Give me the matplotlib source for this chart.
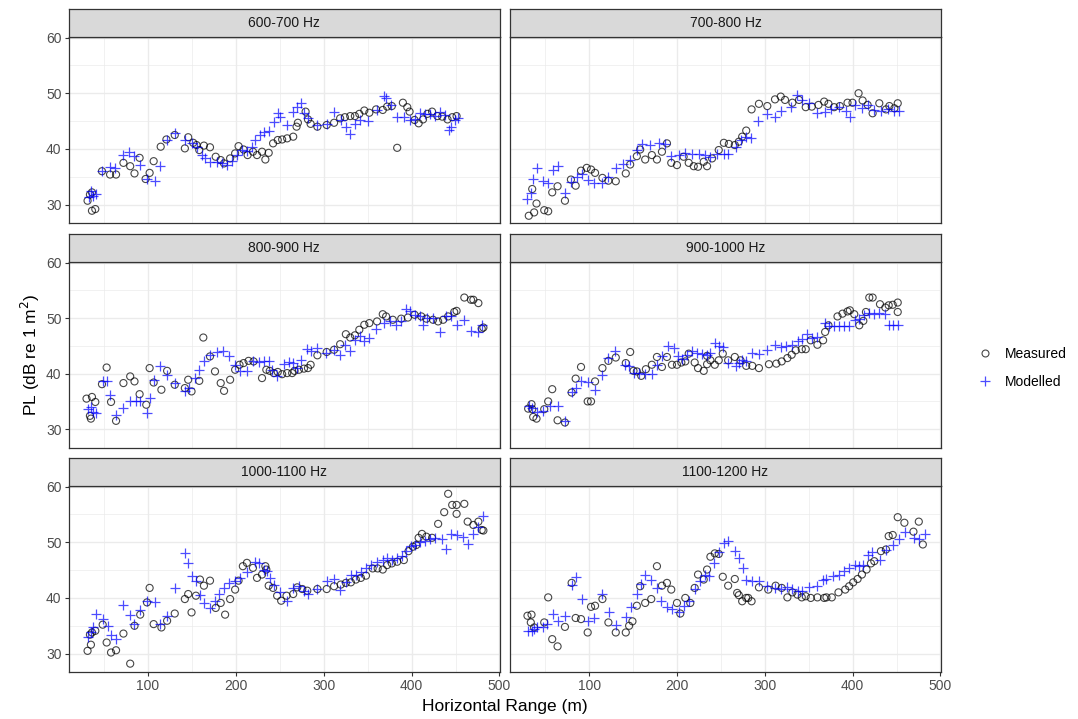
import matplotlib.pyplot as plt
from matplotlib.lines import Line2D
from matplotlib.ticker import MultipleLocator

plt.rcParams['font.family'] = ['Liberation Sans', 'DejaVu Sans']

bands = ['600-700 Hz', '700-800 Hz', '800-900 Hz', '900-1000 Hz', '1000-1100 Hz', '1100-1200 Hz']

# ---- 600-700 Hz ----
meas_r_600 = [31.3, 36.3, 40.1, 34.0, 36.3, 47.7, 56.9, 63.7, 72.1, 79.8, 84.7, 90.5, 97.3, 101.9, 106.5,
              114.5, 121.0, 130.5, 142.0, 145.8, 151.5, 155.3, 158.4, 163.7, 170.6, 177.1, 182.8, 186.6,
              193.5, 199.2, 203.1, 208.8, 213.4, 219.5, 224.1, 229.8, 233.6, 237.4, 242.4, 247.7, 252.7,
              258.4, 265.3, 269.1, 270.6, 279.4, 282.1, 285.1, 292.8, 303.4, 311.8, 318.7, 324.1, 330.2,
              335.5, 340.5, 346.2, 351.9, 359.6, 367.2, 372.2, 377.5, 383.6, 390.1, 395.1, 397.7, 403.4,
              408.0, 413.0, 418.0, 423.3, 429.4, 434.8, 440.9, 446.2, 451.2]
meas_pl_600 = [30.7, 28.9, 29.2, 31.8, 32.2, 36.0, 35.4, 35.4, 37.5, 36.9, 35.6, 38.4, 34.6, 35.7, 37.8,
               40.4, 41.7, 42.5, 40.1, 42.1, 41.1, 40.7, 39.8, 40.6, 40.3, 38.6, 38.0, 37.4, 38.3, 39.2,
               40.5, 39.9, 38.9, 39.5, 38.9, 39.5, 38.1, 39.3, 41.0, 41.6, 41.7, 41.9, 42.2, 44.0, 44.7,
               46.7, 45.3, 44.5, 44.0, 44.3, 44.7, 45.5, 45.7, 45.9, 45.9, 46.3, 46.9, 46.5, 47.1, 47.0,
               47.6, 47.7, 40.2, 48.3, 47.5, 46.7, 45.2, 44.6, 45.3, 46.3, 46.7, 45.9, 45.8, 45.3, 45.7, 45.9]
mod_r_600 = [32.4, 35.1, 37.0, 40.8, 47.7, 56.9, 63.0, 71.4, 79.0, 83.6, 90.5, 98.9, 107.6, 114.1, 121.8,
             130.5, 142.0, 149.6, 155.3, 161.1, 164.9, 170.6, 178.2, 184.0, 189.7, 195.4, 201.2, 206.9,
             212.6, 218.3, 222.1, 227.1, 231.7, 237.4, 243.2, 247.7, 250.8, 258.4, 265.3, 269.1, 273.7,
             277.5, 282.1, 292.8, 304.2, 311.8, 319.4, 325.2, 330.2, 335.5, 341.6, 350.0, 360.7, 368.3,
             371.0, 376.7, 383.6, 391.2, 397.7, 403.4, 409.2, 414.9, 420.6, 426.4, 432.1, 437.8, 442.4,
             445.4, 449.3, 452.3]
mod_pl_600 = [31.3, 32.5, 31.6, 31.9, 36.1, 36.7, 36.6, 39.0, 39.5, 38.7, 37.1, 34.6, 34.3, 36.9, 41.6,
              42.8, 41.6, 41.0, 40.3, 38.9, 38.3, 37.7, 37.7, 37.4, 37.1, 37.8, 38.9, 39.8, 39.7, 40.4,
              41.6, 42.5, 43.1, 43.3, 44.9, 46.4, 45.7, 44.3, 46.7, 47.6, 48.2, 46.4, 45.5, 44.3, 44.5,
              46.7, 45.2, 44.0, 42.7, 44.5, 45.2, 45.1, 47.0, 49.5, 49.1, 47.9, 45.7, 45.7, 45.2, 45.3,
              46.5, 46.3, 46.3, 45.9, 46.7, 46.1, 43.4, 44.0, 45.2, 45.5]

# ---- 700-800 Hz ----
meas_r_700 = [31.0, 37.1, 39.8, 34.9, 48.6, 53.1, 57.7, 63.8, 72.2, 79.0, 84.4, 90.5, 97.0, 101.9, 106.5,
              114.9, 121.7, 130.1, 141.5, 146.5, 154.1, 157.9, 163.6, 171.2, 177.0, 182.7, 188.4, 193.3,
              199.8, 207.4, 213.2, 218.9, 223.8, 230.3, 234.1, 239.8, 247.4, 253.2, 258.9, 265.7, 270.3,
              274.1, 278.7, 284.8, 293.2, 302.7, 311.5, 318.0, 322.9, 331.3, 338.9, 346.5, 353.4, 361.0,
              367.5, 372.4, 378.9, 385.4, 394.1, 399.8, 406.7, 411.3, 417.0, 422.7, 430.3, 437.9, 441.8,
              447.5, 451.3]
meas_pl_700 = [28.0, 28.6, 30.2, 32.8, 29.0, 28.8, 32.2, 33.3, 30.7, 34.5, 33.4, 36.1, 36.6, 36.3, 35.7,
               34.8, 34.3, 34.2, 35.6, 37.2, 38.7, 39.9, 38.1, 38.9, 38.1, 39.5, 41.0, 37.5, 37.1, 38.6,
               37.5, 36.9, 36.8, 37.7, 36.9, 38.3, 39.8, 41.1, 40.9, 40.7, 41.3, 42.2, 43.3, 47.1, 48.1,
               47.7, 48.9, 49.4, 48.8, 48.3, 48.8, 47.5, 47.6, 47.9, 48.5, 48.1, 47.5, 47.7, 48.3, 48.3,
               50.0, 48.7, 47.9, 46.4, 48.2, 47.1, 47.7, 47.3, 48.2]
mod_r_700 = [29.5, 33.3, 36.0, 40.9, 47.4, 52.4, 58.9, 64.6, 72.2, 79.0, 85.5, 91.2, 98.1, 105.7, 114.1,
             121.7, 130.1, 138.9, 146.5, 154.1, 159.8, 169.3, 178.9, 186.5, 193.3, 201.7, 209.3, 216.9,
             224.6, 232.2, 237.9, 245.5, 253.2, 258.1, 266.5, 272.2, 278.0, 283.6, 292.4, 302.7, 311.5,
             318.0, 329.4, 336.0, 342.8, 350.3, 359.8, 368.6, 375.1, 384.6, 392.2, 396.8, 402.9, 410.5,
             417.0, 424.6, 432.2, 439.9, 447.5, 452.4]
mod_pl_700 = [31.0, 32.0, 34.6, 36.6, 34.3, 33.8, 36.3, 36.9, 32.0, 34.1, 35.0, 35.5, 34.5, 33.8, 33.8,
              35.0, 36.6, 37.3, 38.1, 39.8, 40.9, 40.7, 41.0, 40.9, 38.7, 38.9, 39.3, 39.1, 39.1, 38.9,
              38.6, 39.1, 39.1, 39.1, 40.4, 41.6, 42.2, 41.9, 45.1, 46.3, 45.7, 46.9, 47.5, 49.7, 48.7,
              48.2, 46.5, 46.7, 47.1, 47.6, 46.9, 45.7, 47.9, 47.3, 47.9, 47.0, 46.9, 47.1, 46.9, 46.9]

# ---- 800-900 Hz ----
meas_r_800 = [30.1, 36.3, 40.1, 34.0, 35.1, 47.7, 53.0, 58.0, 63.7, 72.1, 79.8, 84.7, 90.5, 98.1, 101.9,
              106.5, 115.3, 121.8, 130.5, 142.0, 145.8, 149.6, 158.4, 163.0, 170.6, 176.3, 182.8, 186.6,
              193.5, 199.2, 204.2, 208.8, 214.5, 220.2, 229.8, 234.7, 238.6, 243.2, 247.7, 252.7, 258.4,
              264.1, 266.8, 271.8, 277.5, 282.1, 285.1, 292.8, 303.4, 311.8, 318.7, 325.2, 330.2, 335.5,
              340.5, 346.2, 351.9, 360.7, 367.2, 371.0, 378.6, 388.2, 395.8, 403.4, 411.1, 416.8, 424.4,
              430.2, 435.9, 441.6, 448.5, 451.2, 460.0, 467.6, 470.3, 476.0, 479.8, 481.7]
meas_pl_800 = [35.5, 35.8, 34.9, 32.4, 31.9, 38.1, 41.1, 34.9, 31.5, 38.3, 39.5, 38.6, 36.3, 34.4, 41.0,
               38.4, 37.1, 40.5, 38.0, 37.4, 38.9, 36.8, 38.7, 46.5, 43.1, 40.4, 38.3, 36.9, 38.9, 40.7,
               41.6, 41.9, 42.3, 42.2, 39.2, 40.7, 40.5, 40.1, 40.3, 39.9, 40.1, 40.1, 40.5, 40.7, 40.9,
               41.0, 41.6, 43.3, 43.9, 44.3, 45.3, 47.1, 46.5, 46.9, 47.9, 48.8, 49.1, 49.4, 50.7, 50.3,
               49.7, 49.9, 50.1, 50.6, 50.3, 49.9, 49.7, 49.4, 49.7, 50.3, 51.1, 51.3, 53.7, 53.3, 53.3,
               52.7, 48.1, 48.3]
mod_r_800 = [31.3, 35.1, 37.0, 40.8, 48.5, 53.0, 56.9, 63.7, 72.1, 79.8, 85.9, 90.5, 98.9, 101.9, 106.5,
             114.1, 121.8, 130.5, 142.0, 146.9, 153.4, 158.4, 163.7, 170.6, 178.2, 185.8, 192.7, 199.2,
             204.9, 212.6, 219.5, 225.9, 231.7, 237.4, 241.3, 247.0, 254.6, 260.4, 265.3, 269.1, 273.7,
             281.3, 285.9, 292.8, 302.3, 311.8, 318.7, 324.1, 330.2, 335.5, 341.6, 346.2, 351.9, 359.6,
             369.1, 376.0, 382.5, 388.2, 393.9, 397.7, 403.4, 409.2, 413.0, 418.0, 424.4, 432.1, 439.7,
             445.4, 451.2, 460.0, 467.6, 475.2, 480.6]
mod_pl_800 = [33.7, 34.0, 33.1, 33.0, 38.6, 38.6, 36.2, 32.6, 33.8, 35.0, 35.0, 35.1, 32.9, 35.7, 38.9,
              41.3, 39.7, 38.3, 36.9, 37.4, 39.2, 40.7, 42.2, 43.3, 43.9, 44.0, 43.1, 41.6, 40.4, 40.4,
              42.2, 42.1, 42.3, 42.2, 40.7, 39.5, 41.7, 42.1, 41.9, 41.0, 42.5, 44.5, 44.1, 44.7, 43.7,
              44.3, 43.4, 45.1, 44.0, 46.1, 46.7, 45.9, 46.5, 48.1, 49.1, 49.5, 48.7, 49.5, 51.6, 51.3,
              50.6, 50.3, 48.8, 50.0, 50.0, 47.5, 50.3, 50.3, 48.7, 49.7, 47.7, 47.5, 48.8]

# ---- 900-1000 Hz ----
meas_r_900 = [30.3, 34.1, 34.9, 36.0, 39.8, 48.6, 53.1, 57.7, 63.8, 72.2, 79.8, 84.4, 90.5, 98.1, 101.9,
              106.5, 114.9, 121.7, 130.1, 141.5, 146.5, 150.3, 154.1, 159.1, 164.4, 171.2, 177.0, 182.7,
              188.4, 194.1, 199.8, 204.8, 209.3, 213.2, 220.0, 223.8, 230.3, 234.1, 234.1, 237.9, 242.9,
              247.4, 252.0, 258.1, 265.7, 272.2, 278.7, 285.6, 293.2, 304.6, 313.0, 319.1, 325.6, 330.5,
              335.1, 342.0, 346.5, 352.2, 359.8, 366.3, 368.6, 372.4, 382.7, 388.4, 394.1, 396.8, 401.8,
              407.5, 412.1, 415.1, 418.9, 422.7, 431.1, 437.2, 441.0, 445.6, 451.3, 451.3]
meas_pl_900 = [33.7, 34.5, 33.6, 32.2, 31.9, 33.6, 35.0, 37.2, 31.6, 31.2, 36.6, 39.1, 41.2, 35.0, 35.0,
               38.6, 41.0, 42.3, 42.9, 41.9, 43.9, 40.5, 40.4, 39.6, 40.8, 41.6, 43.0, 41.2, 43.0, 41.6,
               41.6, 42.0, 42.2, 43.6, 42.0, 41.0, 40.5, 41.7, 43.2, 42.4, 41.6, 42.4, 43.6, 42.4, 43.0,
               42.4, 41.4, 41.4, 41.0, 41.7, 41.8, 42.2, 42.8, 43.4, 44.2, 44.4, 44.4, 46.0, 45.2, 46.0,
               47.5, 48.7, 50.3, 50.8, 51.2, 51.4, 50.7, 48.7, 49.5, 51.1, 53.7, 53.7, 52.5, 51.9, 52.3,
               52.4, 52.8, 51.1]
mod_r_900 = [31.0, 34.9, 39.8, 47.4, 55.0, 63.8, 72.2, 79.8, 84.4, 90.5, 98.1, 106.5, 114.9, 121.7, 129.3,
             140.8, 145.3, 150.3, 156.0, 162.9, 171.2, 177.0, 182.7, 189.5, 196.0, 201.0, 205.5, 211.3,
             217.0, 222.7, 228.4, 234.1, 237.9, 242.9, 247.4, 252.0, 258.1, 266.5, 270.3, 274.1, 278.7,
             285.6, 293.2, 302.7, 311.5, 318.0, 323.7, 330.5, 338.1, 342.7, 348.4, 354.1, 359.8, 368.2,
             373.2, 379.0, 384.6, 390.3, 396.0, 402.9, 407.5, 413.2, 418.9, 424.6, 430.3, 437.2, 441.8,
             446.3, 451.3]
mod_pl_900 = [34.2, 33.8, 33.1, 33.2, 34.2, 34.2, 31.4, 36.7, 37.4, 38.6, 38.5, 37.0, 39.7, 42.9, 44.1,
              41.6, 41.3, 40.2, 40.1, 40.0, 40.0, 41.6, 43.2, 45.0, 44.6, 43.2, 42.6, 43.4, 44.0, 43.8,
              43.6, 43.4, 43.7, 45.6, 45.0, 44.8, 41.9, 41.3, 41.9, 42.5, 42.2, 43.7, 43.6, 44.2, 45.2,
              44.8, 45.0, 45.2, 45.8, 46.2, 47.2, 46.4, 46.6, 49.1, 48.5, 48.6, 48.6, 48.6, 48.5, 49.7,
              49.8, 50.6, 51.0, 50.8, 51.0, 50.8, 48.7, 48.7, 48.7]

# ---- 1000-1100 Hz ----
meas_r_1000 = [31.3, 35.1, 34.0, 36.3, 40.1, 48.5, 53.0, 58.0, 63.7, 72.1, 79.8, 84.7, 91.2, 98.9, 101.9,
               106.5, 115.3, 121.8, 130.5, 142.0, 145.8, 149.6, 154.6, 159.2, 163.7, 170.6, 177.1, 182.8,
               187.8, 193.5, 199.2, 203.1, 208.0, 212.6, 219.5, 224.1, 229.8, 233.6, 234.7, 237.4, 242.4,
               247.0, 251.6, 257.7, 265.3, 269.9, 275.6, 281.3, 292.8, 303.4, 311.8, 319.4, 325.2, 330.9,
               336.6, 342.3, 348.1, 355.7, 361.4, 367.2, 372.2, 377.5, 383.6, 391.2, 396.5, 401.5, 405.3,
               408.0, 411.8, 416.8, 423.3, 430.2, 437.1, 441.6, 446.2, 451.2, 451.2, 460.0, 463.8, 470.3,
               476.0, 479.8, 481.7]
meas_pl_1000 = [30.5, 31.6, 33.4, 33.8, 34.1, 35.2, 32.0, 30.2, 30.6, 33.6, 28.2, 35.0, 37.0, 39.2, 41.8,
                35.3, 34.7, 35.9, 37.2, 39.8, 40.7, 37.4, 40.4, 43.3, 42.2, 43.1, 38.2, 39.1, 37.0, 39.8,
                41.5, 43.1, 45.7, 46.3, 45.4, 43.6, 44.2, 45.7, 45.1, 42.2, 41.8, 40.4, 39.5, 40.4, 40.7,
                41.9, 41.6, 41.3, 41.6, 41.6, 42.1, 42.4, 42.7, 42.8, 43.3, 43.6, 44.0, 45.3, 45.3, 45.1,
                45.9, 46.2, 46.5, 46.8, 48.4, 49.2, 49.5, 50.8, 51.5, 51.0, 50.8, 53.3, 55.4, 58.7, 56.7,
                56.7, 55.1, 56.9, 53.7, 53.1, 53.7, 52.2, 52.1]
mod_r_1000 = [31.3, 35.1, 37.0, 40.8, 48.5, 54.2, 58.0, 63.7, 72.1, 79.8, 83.6, 91.2, 98.9, 107.6, 114.1,
              121.8, 130.5, 142.0, 145.8, 149.6, 154.6, 159.2, 163.7, 170.6, 176.3, 181.3, 186.6, 192.7,
              199.2, 204.9, 212.6, 222.1, 225.9, 231.7, 235.5, 238.6, 243.9, 250.0, 258.4, 265.3, 271.8,
              277.5, 282.1, 292.8, 303.4, 311.8, 318.7, 325.2, 330.9, 336.6, 342.3, 348.1, 353.8, 360.7,
              367.2, 372.2, 377.5, 383.6, 389.0, 393.9, 398.9, 403.4, 409.2, 414.9, 420.6, 427.1, 434.8,
              439.7, 445.4, 451.2, 458.8, 463.8, 470.3, 476.0, 481.7]
mod_pl_1000 = [33.0, 33.8, 34.7, 37.2, 36.2, 35.0, 33.4, 32.6, 38.8, 37.0, 35.4, 37.8, 39.4, 39.2, 35.3,
               36.8, 41.8, 48.0, 46.3, 44.0, 43.1, 40.6, 39.1, 38.2, 39.4, 40.7, 41.8, 42.7, 43.0, 43.6,
               44.6, 46.5, 46.2, 45.1, 44.8, 43.6, 42.4, 41.0, 39.4, 41.8, 42.1, 41.2, 40.7, 41.6, 43.0,
               43.4, 41.5, 42.8, 44.2, 44.2, 44.6, 45.4, 45.9, 46.5, 46.8, 47.2, 46.9, 47.2, 47.5, 48.4,
               49.3, 49.5, 50.1, 50.2, 50.5, 50.7, 50.5, 48.7, 51.5, 51.3, 51.0, 49.6, 51.5, 52.8, 54.7]

# ---- 1100-1200 Hz ----
meas_r_1100 = [29.5, 34.1, 33.3, 37.1, 48.6, 53.1, 57.7, 63.8, 72.2, 79.8, 84.4, 90.5, 98.1, 101.9, 106.5,
               114.9, 121.7, 130.1, 141.5, 145.3, 149.1, 154.1, 157.9, 163.6, 170.5, 177.0, 182.7, 188.4,
               193.3, 199.8, 203.6, 209.3, 215.0, 220.0, 223.8, 230.3, 234.1, 237.9, 242.9, 247.4, 252.0,
               258.1, 265.7, 268.4, 270.3, 274.1, 278.7, 281.0, 284.8, 293.2, 303.8, 312.2, 319.1, 325.6,
               331.3, 337.0, 342.0, 346.5, 352.2, 359.8, 367.5, 370.1, 376.2, 383.8, 391.5, 396.0, 400.6,
               405.6, 410.5, 415.8, 420.8, 424.6, 432.2, 437.9, 441.0, 445.6, 451.3, 458.9, 469.2, 475.3,
               479.9]
meas_pl_1100 = [36.8, 37.0, 35.6, 34.7, 35.6, 40.1, 32.6, 31.3, 34.8, 42.7, 36.4, 36.2, 33.8, 38.4, 38.6,
                39.8, 35.6, 33.8, 33.8, 35.0, 35.8, 38.6, 42.1, 39.1, 39.8, 45.7, 42.2, 42.7, 41.5, 39.1,
                37.2, 40.0, 39.1, 41.8, 44.2, 43.3, 45.1, 47.4, 48.0, 47.9, 43.8, 42.2, 43.4, 40.9, 40.5,
                39.4, 40.0, 40.0, 39.4, 41.9, 41.5, 42.2, 41.8, 40.1, 41.0, 40.6, 40.1, 40.3, 40.0, 40.1,
                40.0, 40.1, 40.1, 41.0, 41.5, 42.1, 42.8, 43.4, 44.2, 45.1, 46.2, 46.6, 48.4, 48.7, 51.1,
                51.3, 54.5, 53.5, 51.9, 53.7, 49.6]
mod_r_1100 = [30.3, 34.1, 37.1, 40.9, 47.4, 51.2, 58.9, 64.6, 72.2, 79.8, 84.4, 92.0, 98.1, 105.7, 114.1,
              122.5, 130.1, 141.5, 147.6, 154.1, 159.1, 163.6, 170.5, 177.0, 181.9, 188.4, 194.1, 201.7,
              207.4, 213.9, 220.0, 226.5, 231.4, 236.8, 241.7, 247.4, 253.2, 258.1, 265.7, 270.3, 274.9,
              277.9, 285.6, 293.2, 302.7, 311.5, 318.0, 325.6, 331.3, 338.1, 342.7, 350.3, 359.8, 366.3,
              370.1, 377.0, 384.6, 390.3, 396.0, 402.9, 407.5, 412.1, 417.0, 422.0, 431.1, 437.9, 445.6,
              452.4, 460.0, 470.3, 476.1, 482.9]
mod_pl_1100 = [34.0, 34.1, 34.4, 34.8, 34.7, 35.3, 37.2, 35.9, 36.8, 42.4, 43.7, 39.8, 35.8, 36.4, 40.7,
               37.5, 35.2, 36.6, 38.3, 40.7, 42.5, 44.2, 43.3, 41.8, 39.5, 38.3, 38.0, 37.4, 38.6, 39.4,
               41.6, 43.0, 44.2, 44.0, 46.3, 48.3, 49.9, 50.2, 48.4, 47.2, 45.4, 43.2, 43.1, 43.0, 42.2,
               41.8, 41.6, 41.9, 41.6, 41.3, 41.3, 41.9, 42.2, 43.3, 43.4, 43.9, 44.2, 44.8, 45.4, 45.9,
               45.7, 46.0, 47.7, 48.3, 46.8, 48.6, 49.5, 50.5, 51.9, 50.8, 50.6, 51.5]

measured = [(meas_r_600, meas_pl_600), (meas_r_700, meas_pl_700), (meas_r_800, meas_pl_800),
            (meas_r_900, meas_pl_900), (meas_r_1000, meas_pl_1000), (meas_r_1100, meas_pl_1100)]
modelled = [(mod_r_600, mod_pl_600), (mod_r_700, mod_pl_700), (mod_r_800, mod_pl_800),
            (mod_r_900, mod_pl_900), (mod_r_1000, mod_pl_1000), (mod_r_1100, mod_pl_1100)]

W, H = 1078, 719
fig = plt.figure(figsize=(W / 100, H / 100), dpi=100)


def px_box(x0, y0, x1, y1):
    return [x0 / W, 1 - y1 / H, (x1 - x0) / W, (y1 - y0) / H]


cols = [(68.5, 500), (510, 941)]
rows = [(37, 223), (262, 447.5), (486, 672)]
strip_h = 28.5

EDGE = '#333333'
meas_col = (0, 0, 0, 0.72)
mod_col = (0, 0, 1, 0.7)

for i, band in enumerate(bands):
    r, c = divmod(i, 2)
    x0, x1 = cols[c]
    y0, y1 = rows[r]
    ax = fig.add_axes(px_box(x0, y0, x1, y1))

    mx, my = measured[i]
    ax.scatter(mx, my, marker='o', s=26, facecolors='none', edgecolors=[meas_col], linewidths=0.8, zorder=3)
    px, py = modelled[i]
    ax.scatter(px, py, marker='+', s=60, c=[mod_col], linewidths=0.9, zorder=4)

    ax.set_xlim(9.6, 500.6)
    ax.set_ylim(26.7, 60.1)
    ax.xaxis.set_major_locator(MultipleLocator(100))
    ax.xaxis.set_minor_locator(MultipleLocator(50))
    ax.yaxis.set_major_locator(MultipleLocator(10))
    ax.yaxis.set_minor_locator(MultipleLocator(5))
    ax.grid(which='major', color='#EBEBEB', lw=1.0, zorder=0)
    ax.grid(which='minor', color='#EBEBEB', lw=0.5, zorder=0)
    ax.set_axisbelow(True)
    for sp in ax.spines.values():
        sp.set_color(EDGE)
        sp.set_linewidth(0.9)
    ax.tick_params(which='major', length=3, width=0.8, color=EDGE, labelcolor='#4D4D4D',
                   labelsize=10, pad=2)
    ax.tick_params(which='minor', length=0)
    if c == 1:
        ax.tick_params(axis='y', labelleft=False, length=0)
    if r < 2:
        ax.tick_params(axis='x', labelbottom=False, length=0)

    sax = fig.add_axes(px_box(x0, y0 - strip_h, x1, y0))
    sax.set_xticks([])
    sax.set_yticks([])
    sax.set_facecolor('#D9D9D9')
    for sp in sax.spines.values():
        sp.set_color(EDGE)
        sp.set_linewidth(0.9)
    sax.text(0.5, 0.5, band, ha='center', va='center', fontsize=10, color='#1A1A1A',
             transform=sax.transAxes)

fig.text(504.5 / W, 1 - 706 / H, 'Horizontal Range (m)', ha='center', va='center', fontsize=12.5)
fig.text(30 / W, 1 - 354.5 / H, 'PL (dB re 1 m$^2$)', ha='center', va='center', rotation=90,
         fontsize=12.5)

handles = [Line2D([], [], marker='o', ls='none', markersize=5, markerfacecolor='none',
                  markeredgecolor=meas_col, markeredgewidth=0.8),
           Line2D([], [], marker='+', ls='none', markersize=7.5, color=mod_col, markeredgewidth=0.9)]
fig.legend(handles, ['Measured', 'Modelled'], loc='center left', bbox_to_anchor=(962 / W, 1 - 368 / H),
           frameon=False, fontsize=10, handletextpad=0.7, labelspacing=1.0, handlelength=1.5)

fig.savefig('out.png', dpi=100)
